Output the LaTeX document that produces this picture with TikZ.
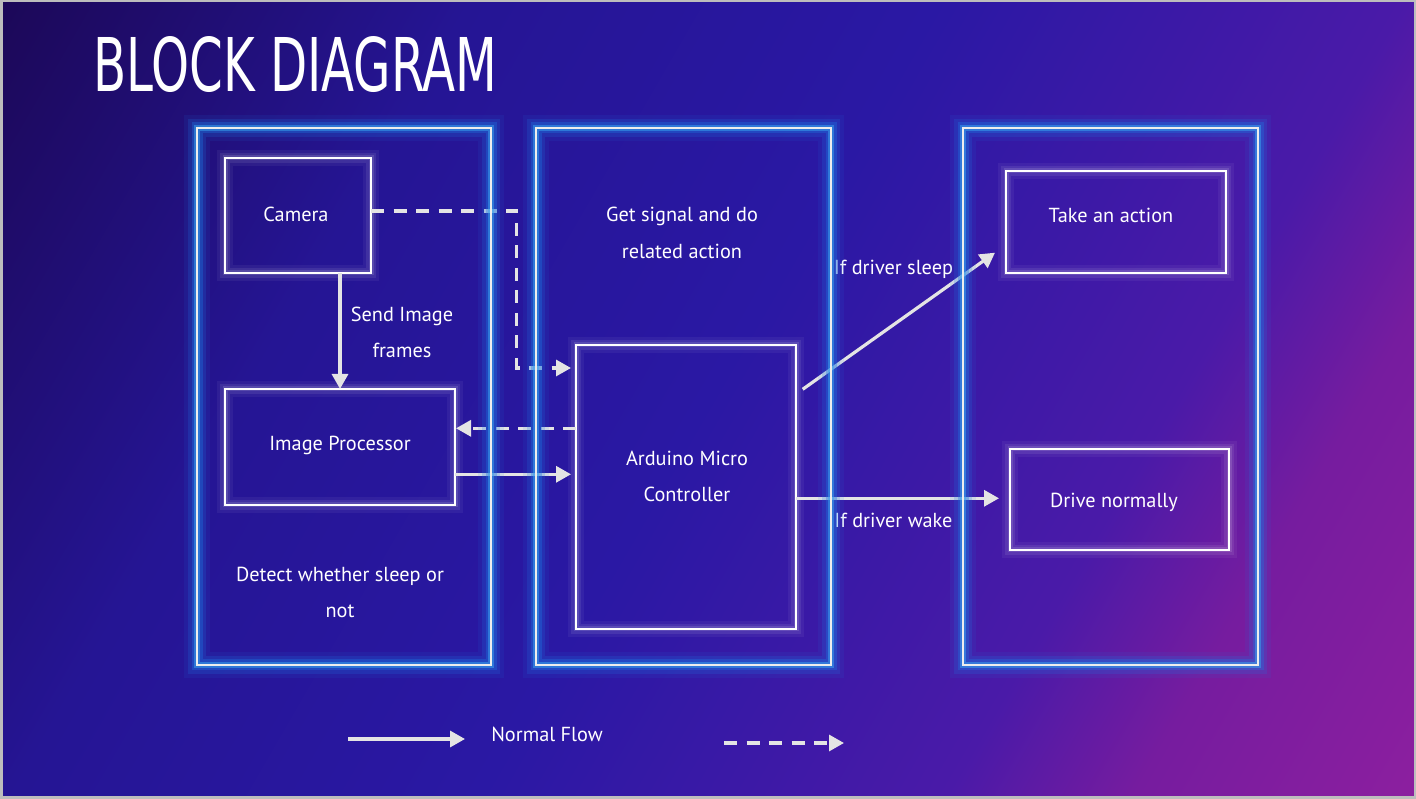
\documentclass[tikz,border=0pt]{standalone}
\usepackage{fontspec}
\usepackage{graphicx}
\setmainfont{PT Sans}
\newfontfamily\titlefont{DejaVu Sans Condensed}
\usetikzlibrary{arrows.meta}
\definecolor{bgA}{HTML}{1C0858}
\definecolor{bgB}{HTML}{251594}
\definecolor{bgC}{HTML}{2A18A4}
\definecolor{bgD}{HTML}{4A1AA8}
\definecolor{bgE}{HTML}{761C9F}
\definecolor{bgF}{HTML}{8C1F9F}
\definecolor{glowblue}{HTML}{1E74E0}
\definecolor{glowcyan}{HTML}{3CA8F0}
\definecolor{panelline}{HTML}{EDEDED}
\definecolor{arrowc}{HTML}{E4E4E4}
\definecolor{framegray}{HTML}{BDBDBD}
\pgfdeclarehorizontalshading{bgshade}{100bp}{color(0bp)=(bgA); color(25bp)=(bgA); color(37.5bp)=(bgB); color(50bp)=(bgC); color(62.5bp)=(bgD); color(67.5bp)=(bgE); color(75bp)=(bgF); color(100bp)=(bgF)}
\pgfdeclarelayer{bg}
\pgfdeclarelayer{fg}
\pgfsetlayers{bg,main,fg}
\newcommand{\bodyfont}{\fontsize{20.3}{36}\selectfont}
\tikzset{
  panel/.style={rectangle, draw=panelline, line width=2.7pt, inner sep=0, outer sep=0,
    preaction={draw=glowblue, line width=26pt, draw opacity=0.10},
    preaction={draw=glowblue, line width=18pt, draw opacity=0.20},
    preaction={draw=glowblue, line width=11pt, draw opacity=0.35},
    preaction={draw=glowcyan, line width=6pt, draw opacity=0.50}},
  box/.style={rectangle, draw=white, line width=2pt, inner sep=0, outer sep=0,
    preaction={draw=white, line width=16pt, draw opacity=0.05},
    preaction={draw=white, line width=10pt, draw opacity=0.08},
    preaction={draw=white, line width=5pt, draw opacity=0.12}},
  lbl/.style={text=white, font=\bodyfont, anchor=base, inner sep=0},
  flow/.style={draw=arrowc, line width=3.2pt, -{Triangle[length=15pt,width=16pt]}},
  dflow/.style={flow, dash pattern=on 13pt off 9.5pt},
}
\begin{document}
\begin{tikzpicture}[x=1pt,y=1pt]
\useasboundingbox (0,0) rectangle (1416,799);
\begin{pgfonlayer}{bg}
  \begin{scope}
    \clip (0,0) rectangle (1416,799);
    \shade[shading=bgshade, shading angle=-30] (708,399.5) circle (814);
  \end{scope}
  \draw[framegray, line width=2.5pt] (1.25,1.25) rectangle (1414.75,797.75);
\end{pgfonlayer}

% title
\node[anchor=base west, inner sep=0, text=white] (title) at (93,707)
  {\resizebox{404pt}{55pt}{\titlefont BLOCK DIAGRAM}};

% panels (on top layer)
\begin{pgfonlayer}{fg}
  \node[panel, minimum width=294pt, minimum height=537pt] (p1) at (344,402.5) {};
  \node[panel, minimum width=295pt, minimum height=537pt] (p2) at (683.5,402.5) {};
  \node[panel, minimum width=295pt, minimum height=537pt] (p3) at (1110.5,402.5) {};
\end{pgfonlayer}

% inner boxes
\node[box, minimum width=146pt, minimum height=115pt] (cam) at (298,583.5) {};
\node[box, minimum width=230pt, minimum height=116pt] (ip) at (340,352) {};
\node[box, minimum width=220pt, minimum height=284pt] (ard) at (686,312) {};
\node[box, minimum width=220pt, minimum height=102pt] (act) at (1116,577) {};
\node[box, minimum width=219pt, minimum height=101pt] (drv) at (1119.5,299.5) {};

% labels
\node[lbl] (camt) at (296,577.5) {Camera};
\node[lbl] (send1) at (402,477) {Send Image};
\node[lbl] (send2) at (402,441) {frames};
\node[lbl] (ipt) at (340,348) {Image Processor};
\node[lbl] (det1) at (340,217) {Detect whether sleep or};
\node[lbl] (det2) at (340,181) {not};
\node[lbl] (get1) at (682,577) {Get signal and do};
\node[lbl] (get2) at (682,540.5) {related action};
\node[lbl] (ard1) at (687,333) {Arduino Micro};
\node[lbl] (ard2) at (687,297) {Controller};
\node[lbl] (slp) at (893.5,524) {If driver sleep};
\node[lbl] (wak) at (893.5,271) {If driver wake};
\node[lbl] (actt) at (1111,576.5) {Take an action};
\node[lbl] (drvt) at (1114,291) {Drive normally};
\node[lbl] (leg) at (547,57) {Normal Flow};

% connectors
\draw[flow] (cam.south -| ip.north) -- (ip.north);
\coordinate (dk) at (516.5,431);
\draw[dflow, shorten >=5pt] ([yshift=4.5pt]cam.east) -| (dk) -- (dk -| ard.west);
\coordinate (ipr) at ([yshift=18.7pt]ip.east);
\draw[dflow, shorten >=1pt] (ard.west |- ipr) -- (ipr);
\coordinate (ipo) at ([yshift=-27.3pt]ip.east);
\draw[flow, shorten >=5pt] (ipo) -- (ipo -| ard.west);
\draw[flow] ([xshift=6.7pt,yshift=97.7pt]ard.east) -- ([xshift=-11pt,yshift=-30.7pt]act.west);
\draw[flow, shorten >=11pt] ([yshift=-11.3pt]ard.east) -- ([yshift=1.2pt]drv.west);

% legend
\coordinate (l1a) at (348,60);
\coordinate (l1b) at (465,60);
\coordinate (l2a) at (724,56);
\coordinate (l2b) at (844,56);
\draw[flow] (l1a) -- (l1b);
\draw[dflow] (l2a) -- (l2b);
\end{tikzpicture}
\end{document}
